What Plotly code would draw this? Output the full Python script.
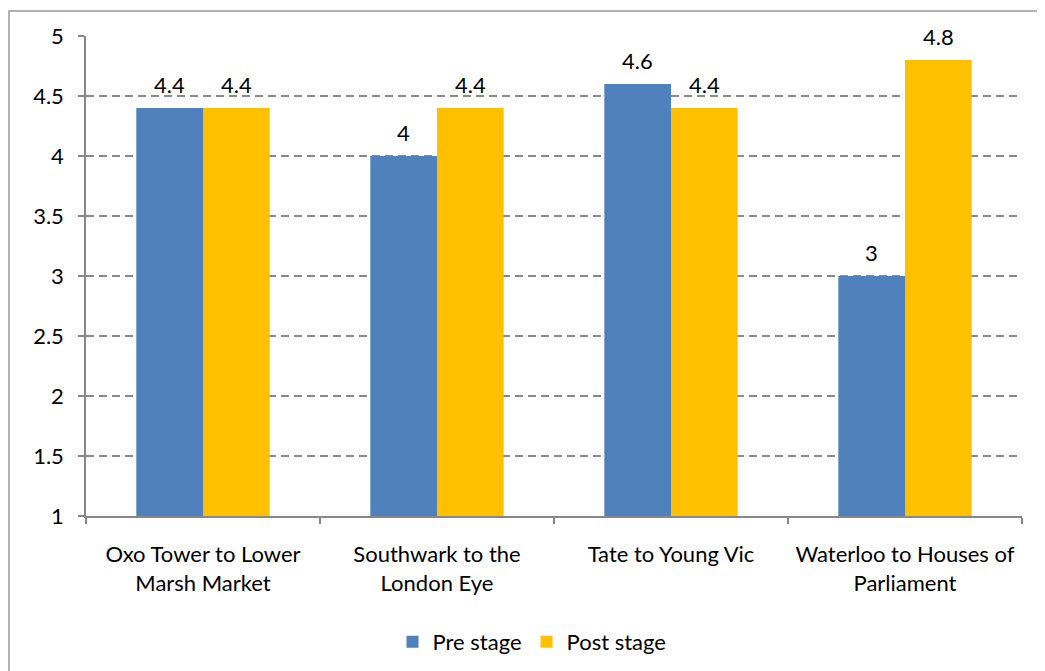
import plotly.graph_objects as go

categories = ["Oxo Tower to Lower<br>Marsh Market", "Southwark to the<br>London Eye",
              "Tate to Young Vic", "Waterloo to Houses of<br>Parliament"]
pre_stage = [4.4, 4.0, 4.6, 3.0]
post_stage = [4.4, 4.4, 4.4, 4.8]
y_ticks = [1, 1.5, 2, 2.5, 3, 3.5, 4, 4.5, 5]
y_tick_labels = ["1", "1.5", "2", "2.5", "3", "3.5", "4", "4.5", "5"]

FONT = "Lato, 'Open Sans', sans-serif"
FS = 22

fig = go.Figure()
fig.add_trace(go.Bar(name="Pre stage", x=categories, y=pre_stage,
                     marker=dict(color="#4F81BD", line=dict(width=0))))
fig.add_trace(go.Bar(name="Post stage", x=categories, y=post_stage,
                     marker=dict(color="#FFC000", line=dict(width=0))))

# page body has an 8px margin; compensate so the screen positions match
OFF = 8
W, H = 1045, 671
L, T = 86 - OFF, 36 - OFF
pw, ph = 936, 480
R = W - L - pw
B = H - T - ph
def px(x): return (x - OFF - L) / pw
def py(y): return (H - B - (y - OFF)) / ph

BARGAP = 0.43
bar_px = pw / len(categories) * (1 - BARGAP) / 2
for series, sign in ((pre_stage, -1), (post_stage, 1)):
    for cat, v in zip(categories, series):
        fig.add_annotation(x=cat, y=v, text=f"{v:g}", showarrow=False,
                           xanchor="center", yanchor="bottom",
                           xshift=sign * bar_px / 2, yshift=8,
                           font=dict(size=FS, color="#000"))

fig.add_shape(type="rect", xref="paper", yref="paper",
              x0=px(9), x1=px(1040), y0=py(11), y1=py(700),
              line=dict(color="#999", width=1.5), fillcolor="rgba(0,0,0,0)", layer="below")

fig.update_layout(
    width=W, height=H,
    margin=dict(l=L, r=R, t=T, b=B, autoexpand=False),
    paper_bgcolor="white", plot_bgcolor="white",
    barmode="group", bargap=BARGAP, bargroupgap=0,
    font=dict(family=FONT, size=FS, color="#000"),
    legend=dict(orientation="h", x=px(532), xanchor="center", y=py(642), yanchor="middle",
                font=dict(size=FS), traceorder="normal"),
    xaxis=dict(showline=True, linecolor="#888", linewidth=1.5, ticks="outside",
               tickson="boundaries", ticklen=6, tickcolor="#888", tickwidth=1.5,
               tickfont=dict(size=FS), automargin=False, ticklabelstandoff=18),
    yaxis=dict(range=[1, 5], tickvals=y_ticks, ticktext=y_tick_labels,
               showline=True, linecolor="#888", linewidth=1.5,
               ticks="outside", ticklen=6, tickcolor="#888", tickwidth=1.5,
               showgrid=True, gridcolor="#8a8a8a", griddash="8px,5px", gridwidth=1.5,
               zeroline=False, tickfont=dict(size=FS), automargin=False,
               ticklabelstandoff=10),
)

fig.write_html("out.html")
